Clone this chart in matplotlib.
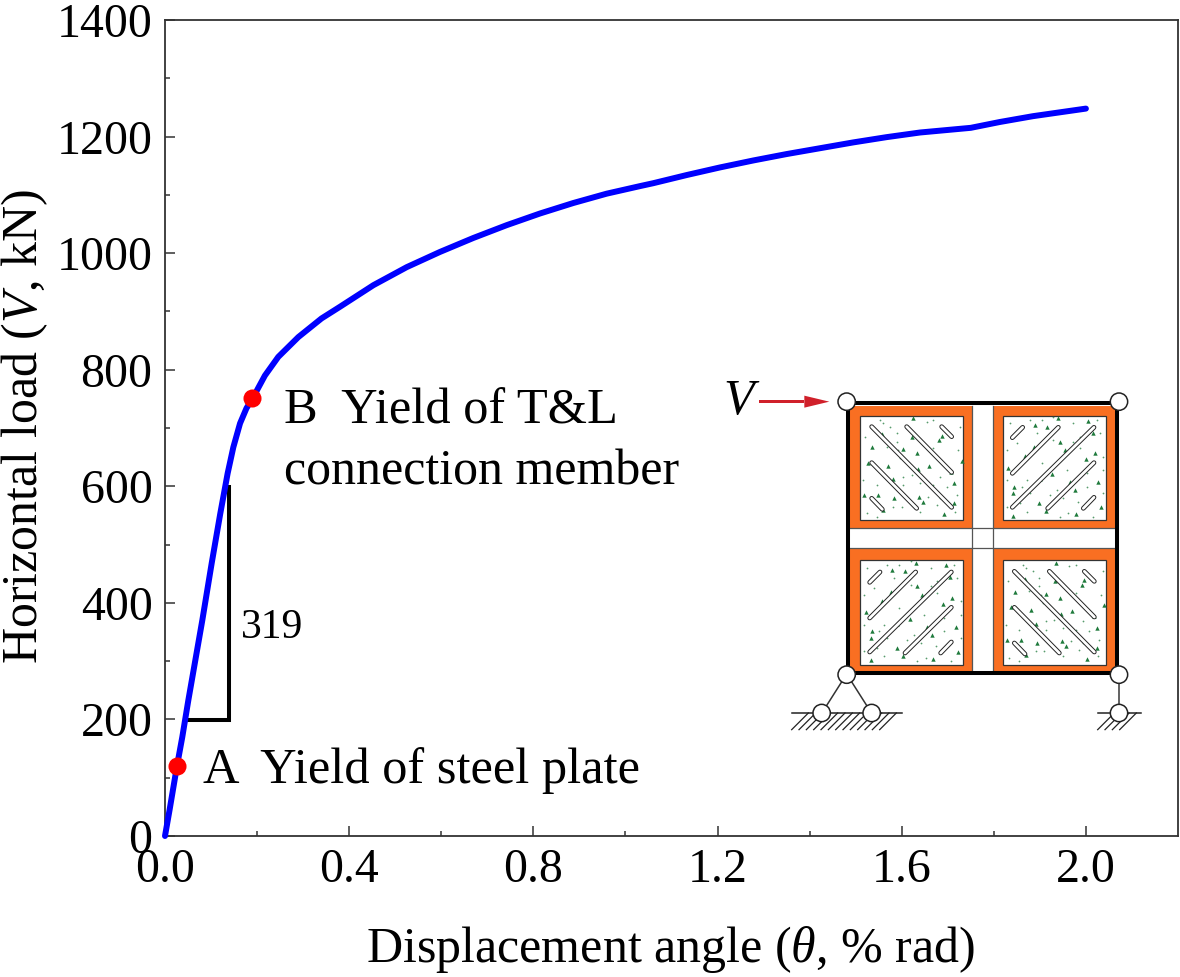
import matplotlib
matplotlib.use("Agg")
import matplotlib.pyplot as plt
from matplotlib.patches import Rectangle, Circle, Polygon

plt.rcParams['font.family'] = ['Liberation Serif', 'DejaVu Serif']
plt.rcParams['mathtext.fontset'] = 'custom'
plt.rcParams['mathtext.it'] = 'Liberation Serif:italic'
plt.rcParams['mathtext.rm'] = 'Liberation Serif'

# ---- data
theta = [0, 0.010, 0.026, 0.0376, 0.0507, 0.081, 0.1014, 0.120, 0.136, 0.1484, 0.163, 0.177, 0.1897,
         0.217, 0.246, 0.2896, 0.340, 0.380, 0.4525, 0.525, 0.597, 0.6695, 0.742, 0.8143, 0.8867,
         0.959, 1.0315, 1.0604, 1.133, 1.205, 1.2776, 1.35, 1.4224, 1.4948, 1.567, 1.64, 1.75,
         1.813, 1.885, 2.00]
load = [0, 45, 120, 170, 233, 370, 468, 553, 622, 667, 708, 734, 750,
        790, 822, 856, 888, 908, 945, 976, 1002, 1026, 1048, 1068, 1086,
        1102, 1115, 1120, 1134, 1147, 1159, 1170, 1180, 1190, 1199, 1207, 1215,
        1225, 1235, 1248]
key_theta = [0.026, 0.1897]
key_load = [120, 751]
tri_theta = [0.047, 0.140, 0.140]
tri_load = [199, 199, 602]
xticks = [0.0, 0.4, 0.8, 1.2, 1.6, 2.0]
yticks = [0, 200, 400, 600, 800, 1000, 1200, 1400]

fig = plt.figure(figsize=(11.8, 9.77), dpi=100)
W, H = 1180, 977
ax = fig.add_axes([165/W, 1-836/H, (1178-165)/W, (836-20)/H])
ax.set_xlim(0, 2.2)
ax.set_ylim(0, 1400)
ax.plot(theta, load, color='#0000ff', lw=4.3, solid_capstyle='round', solid_joinstyle='round',
        clip_on=False, zorder=3)
ax.plot(key_theta, key_load, 'o', color='#ff0000', ms=13, mew=0, zorder=4, clip_on=False)
ax.plot(tri_theta, tri_load, color='black', lw=2.9, solid_joinstyle='miter', solid_capstyle='butt', zorder=2)

ax.set_xticks(xticks)
ax.set_xticklabels([f'{v:.1f}' for v in xticks])
ax.set_yticks(yticks)
ax.set_xticks([0.2, 0.6, 1.0, 1.4, 1.8], minor=True)
ax.set_yticks([100, 300, 500, 700, 900, 1100, 1300], minor=True)
ax.tick_params(which='major', direction='in', length=7, width=1.1, color='#333333', labelsize=34.5)
ax.tick_params(axis='x', which='major', pad=9)
ax.tick_params(axis='y', which='major', pad=9)
ax.tick_params(which='minor', direction='in', length=3.6, width=1.1, color='#333333')
for s in ax.spines.values():
    s.set_linewidth(1.3)
    s.set_color('#333333')

fs = 36
fig.text(670/W, 1-962/H, r'Displacement angle ($\mathit{\theta}$, % rad)', ha='center', va='baseline', fontsize=fs)
fig.text(37/W, 1-427/H, r'Horizontal load ($\mathit{V}$, kN)', ha='center', va='baseline', rotation=90,
         rotation_mode='anchor', fontsize=fs)

fig.text(203/W, 1-783/H, 'A  Yield of steel plate', ha='left', va='baseline', fontsize=36.4)
fig.text(284/W, 1-423/H, 'B  Yield of T&L', ha='left', va='baseline', fontsize=36.4)
fig.text(284/W, 1-485/H, 'connection member', ha='left', va='baseline', fontsize=fs)
fig.text(241/W, 1-638/H, '319', ha='left', va='baseline', fontsize=30)

# ---- schematic inset, drawn in the 3x-zoom pixel frame of the reference
ov = fig.add_axes([0, 0, 1, 1], facecolor='none')
ov.set_xlim(0, W)
ov.set_ylim(H, 0)
ov.axis('off')


def X(v):
    return 720 + v / 3


def Y(v):
    return 370 + v / 3


ORANGE = '#f96f22'
GREEN = '#1f7a3c'
# panel = (outer x0, x1, y0, y1, inner x0, x1, y0, y1)
panels = {
    'tl': (390, 757, 107, 474, 421, 730, 137, 450),
    'tr': (818, 1186, 107, 474, 849, 1157, 137, 450),
    'bl': (390, 757, 535, 903, 421, 730, 571, 884),
    'br': (818, 1186, 535, 903, 849, 1157, 571, 884),
}
bars_tl = [((455, 170), (695, 412)), ((560, 170), (695, 307)), ((665, 170), (695, 200)),
           ((455, 278), (590, 415)), ((455, 385), (487, 418))]
bars_tr = [((1015, 172), (877, 310)), ((1122, 172), (877, 412)), ((908, 172), (877, 203)),
           ((1122, 278), (983, 415)), ((1122, 382), (1090, 415))]
tris_tl = [(457, 232), (487, 192), (580, 145), (665, 197), (592, 250), (550, 237), (505, 287),
           (445, 278), (577, 200), (725, 272), (627, 288), (595, 297), (693, 305), (703, 340),
           (520, 328), (432, 375), (475, 375), (522, 385), (597, 380), (610, 395), (490, 420),
           (672, 432), (703, 400), (657, 210)]
tris_tr = [(982, 170), (945, 165), (1015, 145), (1105, 152), (1118, 188), (942, 232), (915, 258),
           (865, 293), (1020, 215), (1035, 240), (1125, 250), (1097, 268), (997, 313), (960, 328),
           (883, 350), (880, 370), (1135, 337), (1050, 337), (1065, 360), (958, 400), (880, 437),
           (978, 423), (1068, 432), (1143, 412)]
dots_tl = [(480, 150), (490, 160), (530, 190), (620, 155), (640, 150), (530, 215), (540, 265),
           (475, 300), (550, 320), (550, 345), (680, 350), (660, 320), (520, 410), (545, 410),
           (625, 380), (650, 405), (440, 430), (470, 440), (710, 375), (500, 230), (610, 225),
           (640, 235), (720, 170), (715, 240), (435, 200), (510, 170), (600, 340), (640, 345),
           (575, 315), (430, 330), (470, 345), (660, 385), (600, 425), (705, 425), (535, 240)]
dots_tr = [(870, 160), (930, 150), (965, 150), (1060, 160), (1080, 200), (1140, 190), (1000, 210),
           (1060, 215), (860, 240), (890, 220), (1080, 235), (1150, 260), (1040, 300), (1100, 310),
           (1150, 300), (920, 330), (860, 330), (930, 370), (900, 400), (1010, 360), (1100, 350),
           (1030, 385), (1150, 370), (860, 410), (920, 425), (1020, 440), (1120, 440), (965, 280),
           (1000, 140), (1130, 150), (950, 190), (1075, 395), (990, 375), (1045, 430), (905, 350)]

for key, (ox0, ox1, oy0, oy1, ix0, ix1, iy0, iy1) in panels.items():
    ov.add_patch(Rectangle((X(ox0), Y(oy0)), (ox1-ox0)/3, (oy1-oy0)/3, fc=ORANGE, ec='none', zorder=1))
    ov.add_patch(Rectangle((X(ix0), Y(iy0)), (ix1-ix0)/3, (iy1-iy0)/3, fc='white', ec='#333333',
                           lw=0.9, zorder=2))
    left = key in ('tl', 'br')
    src_bars = bars_tl if left else bars_tr
    src_tris = tris_tl if left else tris_tr
    src_dots = dots_tl if left else dots_tr
    dx = ix0 - (421 if left else 849)
    dy = iy0 - 137
    ov.scatter([X(p[0]+dx) for p in src_tris], [Y(p[1]+dy) for p in src_tris], s=10, marker='^',
               color=GREEN, linewidths=0, zorder=3)
    ov.scatter([X(p[0]+dx) for p in src_dots], [Y(p[1]+dy) for p in src_dots], s=1.6, marker='o',
               color=GREEN, linewidths=0, alpha=0.75, zorder=3)
    for a, b in src_bars:
        xs = [X(a[0]+dx), X(b[0]+dx)]
        ys = [Y(a[1]+dy), Y(b[1]+dy)]
        ov.plot(xs, ys, color='#222222', lw=3.4, solid_capstyle='round', zorder=4)
        ov.plot(xs, ys, color='white', lw=2.0, solid_capstyle='round', zorder=5)

# cross lines in the white strips
for v in (757, 818):
    ov.plot([X(v), X(v)], [Y(107), Y(903)], color='#555555', lw=0.9, zorder=6)
for v in (474, 535):
    ov.plot([X(390), X(1186)], [Y(v), Y(v)], color='#555555', lw=0.9, zorder=6)

# outer frame
ov.add_patch(Rectangle((X(384), Y(100)), (1192-384)/3, (910-100)/3, fc='none', ec='black', lw=2.9, zorder=7))

# supports
ov.plot([X(380), X(305)], [Y(912), Y(1030)], color='#333333', lw=1.1, zorder=7)
ov.plot([X(380), X(455)], [Y(912), Y(1030)], color='#333333', lw=1.1, zorder=7)
ov.plot([X(1197), X(1197)], [Y(912), Y(1030)], color='#555555', lw=1.3, zorder=7)
ground = [(215, 547), (1133, 1263)]
for g0, g1 in ground:
    ov.plot([X(g0), X(g1)], [Y(1029), Y(1029)], color='#222222', lw=1.1, zorder=7)
    v = g0 + 50
    while v <= g1 + 1:
        ov.plot([X(v), X(v-50)], [Y(1029), Y(1079)], color='#222222', lw=0.9, zorder=7)
        v += 22

joints = [(380, 95), (1197, 95), (380, 914), (1197, 914), (305, 1029), (455, 1029), (1197, 1029)]
for cx, cy in joints:
    ov.add_patch(Circle((X(cx), Y(cy)), 26/3, fc='white', ec='#222222', lw=1.1, zorder=8))

# load arrow
ov.add_patch(Rectangle((X(118), Y(91)), 135/3, 9/3, fc='#d0202a', ec='none', zorder=8))
ov.add_patch(Polygon([(X(253), Y(77)), (X(328), Y(95)), (X(253), Y(113))], closed=True,
                     fc='#d0202a', ec='none', zorder=8))
ov.text(739, 402, 'V', style='italic', fontsize=36, ha='center', va='center', zorder=8)

fig.savefig('out.png', dpi=100)
